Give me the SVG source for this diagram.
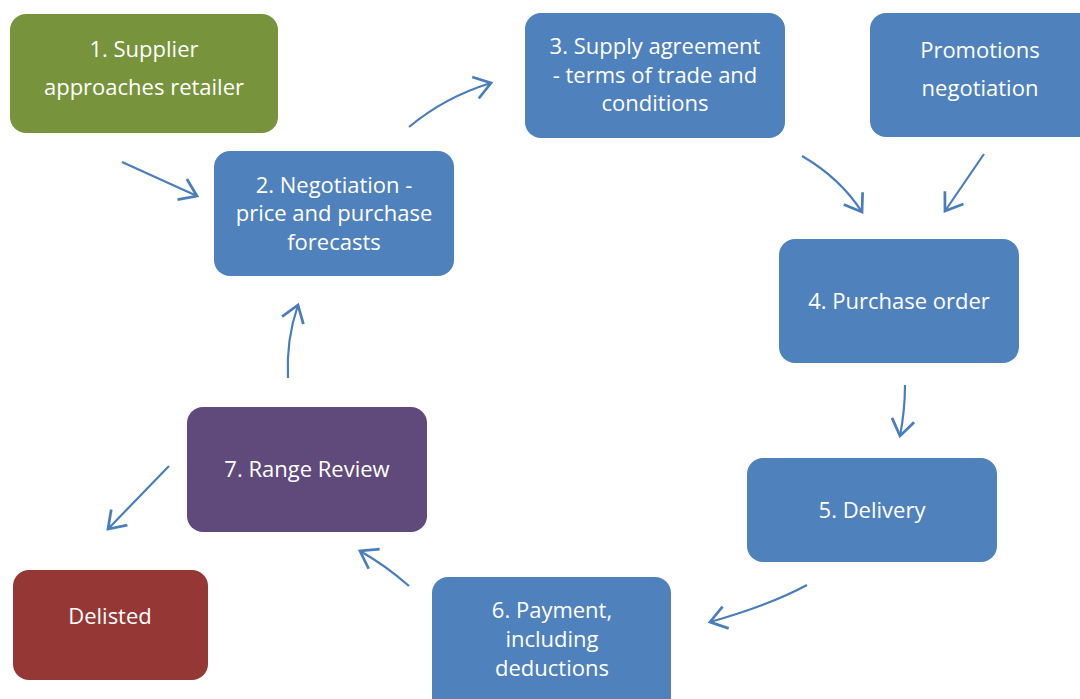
<svg xmlns="http://www.w3.org/2000/svg" width="1080" height="699" viewBox="0 0 1080 699">
<defs>
<style>
.n text{font-family:"Open Sans","Liberation Sans",sans-serif;font-size:22px;fill:#ffffff;text-anchor:middle}
.blue{fill:#4F81BD}
.c path{fill:none;stroke:#4A7EBB;stroke-width:2.2;marker-end:url(#ah)}
</style>
<marker id="ah" markerUnits="userSpaceOnUse" markerWidth="30" markerHeight="30" refX="0" refY="0" viewBox="-16 -12 20 24" orient="auto">
<path d="M-13,-9 L0,0 L-13,9" fill="none" stroke="#4A7EBB" stroke-width="2.2"/>
</marker>
</defs>
<rect width="1080" height="699" fill="#ffffff"/>
<g id="n1" class="n"><rect x="10" y="14" width="268" height="119" rx="16" fill="#77933C"/><text x="144" y="57">1. Supplier</text><text x="144" y="95">approaches retailer</text></g>
<g id="n2" class="n"><rect x="214" y="151" width="240" height="125" rx="16" class="blue"/><text x="334" y="193">2. Negotiation -</text><text x="334" y="221">price and purchase</text><text x="334" y="250">forecasts</text></g>
<g id="n3" class="n"><rect x="525" y="13" width="260" height="125" rx="16" class="blue"/><text x="655" y="54">3. Supply agreement</text><text x="655" y="83">- terms of trade and</text><text x="655" y="111">conditions</text></g>
<g id="np" class="n"><rect x="870" y="13" width="230" height="124" rx="16" class="blue"/><text x="980" y="58">Promotions</text><text x="980" y="96">negotiation</text></g>
<g id="n4" class="n"><rect x="779" y="239" width="240" height="124" rx="16" class="blue"/><text x="899" y="309">4. Purchase order</text></g>
<g id="n5" class="n"><rect x="747" y="458" width="250" height="104" rx="16" class="blue"/><text x="872" y="518">5. Delivery</text></g>
<g id="n6" class="n"><rect x="432" y="577" width="239" height="140" rx="16" class="blue"/><text x="552" y="618">6. Payment,</text><text x="552" y="647">including</text><text x="552" y="676">deductions</text></g>
<g id="n7" class="n"><rect x="187" y="407" width="240" height="125" rx="16" fill="#604A7B"/><text x="307" y="477">7. Range Review</text></g>
<g id="nd" class="n"><rect x="13" y="570" width="195" height="110" rx="16" fill="#953735"/><text x="110" y="624">Delisted</text></g>
<g id="connectors" class="c">
<path d="M122,162 L197,196"/>
<path d="M409,127 Q445,97 491,83"/>
<path d="M802,156 Q840,178 862,212"/>
<path d="M984,154 L945,211"/>
<path d="M905,385 Q905,410 900,436"/>
<path d="M807,585 Q770,605 710,622"/>
<path d="M409,586 Q385,565 360,551"/>
<path d="M169,466 L108,529"/>
<path d="M288,378 Q286,340 298,305"/>
</g>
</svg>
